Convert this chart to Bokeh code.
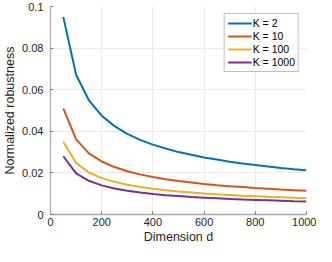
from bokeh.plotting import figure
from bokeh.models import Range1d, FixedTicker, Legend, LegendItem
from bokeh.embed import file_html
from bokeh.resources import INLINE

dims = [50, 100, 150, 200, 250, 300, 350, 400, 450, 500,
        550, 600, 650, 700, 750, 800, 850, 900, 950, 1000]
k2 = [0.0950, 0.0672, 0.0549, 0.0475, 0.0425, 0.0388, 0.0359, 0.0336, 0.0317, 0.0300,
      0.0287, 0.0274, 0.0264, 0.0254, 0.0245, 0.0238, 0.0231, 0.0224, 0.0218, 0.0213]
k10 = [0.0510, 0.0361, 0.0294, 0.0255, 0.0228, 0.0208, 0.0193, 0.0180, 0.0170, 0.0161,
       0.0154, 0.0147, 0.0141, 0.0136, 0.0132, 0.0127, 0.0124, 0.0120, 0.0117, 0.0114]
k100 = [0.0350, 0.0248, 0.0202, 0.0175, 0.0157, 0.0143, 0.0132, 0.0124, 0.0117, 0.0111,
        0.0106, 0.0101, 0.0097, 0.0094, 0.0090, 0.0088, 0.0085, 0.0083, 0.0080, 0.0078]
k1000 = [0.0280, 0.0198, 0.0162, 0.0140, 0.0125, 0.0114, 0.0106, 0.0099, 0.0093, 0.0089,
         0.0084, 0.0081, 0.0078, 0.0075, 0.0072, 0.0070, 0.0068, 0.0066, 0.0064, 0.0063]
labels = ["K = 2", "K = 10", "K = 100", "K = 1000"]
colors = ["#0072BD", "#D95319", "#EDB120", "#7E2F8E"]
x_ticks = [0, 200, 400, 600, 800, 1000]
y_ticks = [0, 0.02, 0.04, 0.06, 0.08, 0.1]
y_tick_labels = ["0", "0.02", "0.04", "0.06", "0.08", "0.1"]

FONT = "Liberation Sans"

p = figure(width=316, height=246, output_backend="svg", toolbar_location=None,
           x_range=Range1d(0, 1000), y_range=Range1d(0, 0.1),
           min_border_left=46, min_border_right=10, min_border_top=6, min_border_bottom=30)
p.outline_line_color = None
p.background_fill_color = "white"
p.border_fill_color = "white"

renderers = []
for ys, c in zip([k2, k10, k100, k1000], colors):
    r = p.line(dims, ys, line_color=c, line_width=2)
    renderers.append(r)

p.xaxis.ticker = FixedTicker(ticks=x_ticks)
p.yaxis.ticker = FixedTicker(ticks=y_ticks)
p.yaxis.major_label_overrides = {t: s for t, s in zip(y_ticks, y_tick_labels)}
p.xaxis.axis_label = "Dimension d"
p.yaxis.axis_label = "Normalized robustness"

for ax in [p.xaxis[0], p.yaxis[0]]:
    ax.axis_line_color = "#ababab"
    ax.axis_line_width = 1.3
    ax.major_tick_line_color = "#7a7a7a"
    ax.major_tick_in = 3
    ax.major_tick_out = 0
    ax.minor_tick_line_color = None
    ax.major_label_text_font = FONT
    ax.major_label_text_font_size = "11px"
    ax.major_label_text_color = "#262626"
    ax.axis_label_text_font = FONT
    ax.axis_label_text_font_size = "12.5px"
    ax.axis_label_text_font_style = "normal"
    ax.axis_label_text_color = "#262626"

p.xaxis.major_label_standoff = 3
p.xaxis.axis_label_standoff = 1
p.yaxis.major_label_standoff = 7
p.yaxis.axis_label_standoff = 2

p.xgrid.grid_line_color = "#ebebeb"
p.ygrid.grid_line_color = "#ebebeb"
p.xgrid.ticker = FixedTicker(ticks=x_ticks)
p.ygrid.ticker = FixedTicker(ticks=y_ticks)

legend = Legend(items=[LegendItem(label=l, renderers=[r]) for l, r in zip(labels, renderers)],
                location="top_right")
legend.label_text_font = FONT
legend.label_text_font_size = "10.5px"
legend.label_text_color = "#000000"
legend.border_line_color = "#7f7f7f"
legend.border_line_width = 1
legend.background_fill_color = "white"
legend.background_fill_alpha = 1
legend.glyph_width = 24
legend.glyph_height = 12
legend.label_height = 12
legend.label_standoff = 1
legend.spacing = 1
legend.padding = 3
legend.margin = 7
p.add_layout(legend)

open("out.html", "w").write(file_html(p, INLINE))
